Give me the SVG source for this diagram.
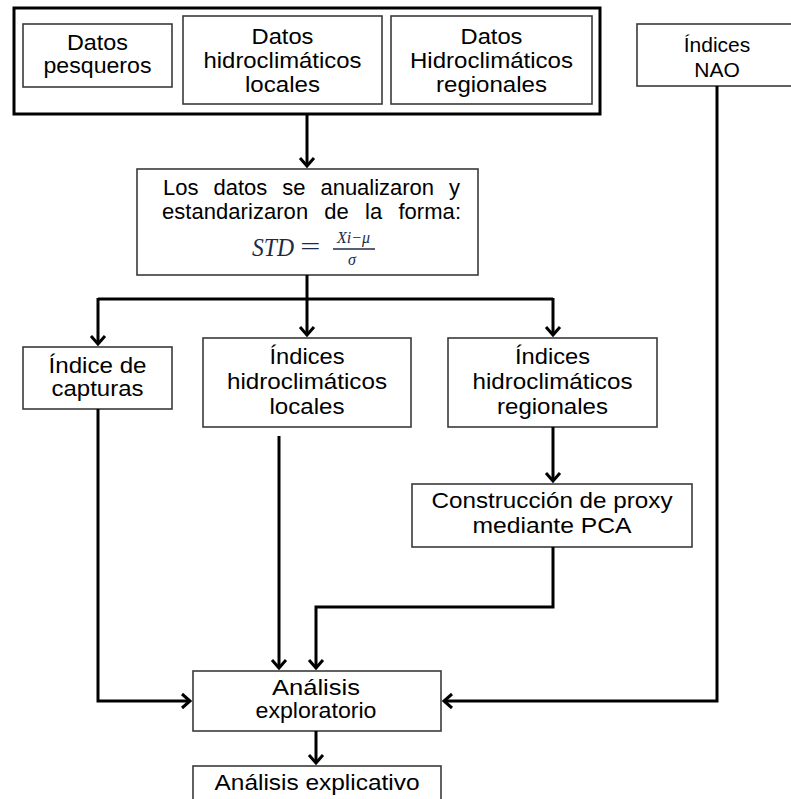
<svg xmlns="http://www.w3.org/2000/svg" width="791" height="799" viewBox="0 0 791 799">
<defs>
<marker id="arr" markerUnits="userSpaceOnUse" viewBox="-12 -10 14 20" refX="0" refY="0" markerWidth="14" markerHeight="20" orient="auto">
<path d="M-8,-7 L0,0 L-8,7" fill="none" stroke="#000" stroke-width="3" stroke-linejoin="miter"/>
</marker>
<style>
.box{fill:#fff;stroke:#3a3a3a;stroke-width:1.6}
.outer{fill:#fff;stroke:#000;stroke-width:3}
.t{font-family:"Liberation Sans",Arial,sans-serif;font-size:22px;fill:#000;text-anchor:middle}
.c{fill:none;stroke:#000;stroke-width:3}
.ca{fill:none;stroke:#000;stroke-width:3;marker-end:url(#arr)}
.m{font-family:"Liberation Serif","Times New Roman",serif;font-style:italic;fill:#1c2a48}
</style>
</defs>
<rect width="791" height="799" fill="#fff"/>

<g id="grupo-datos">
<rect class="outer" x="14" y="8" width="586" height="106"/>
</g>
<g id="datos-pesqueros">
<rect class="box" x="23" y="24" width="149" height="63"/>
<text class="t" x="97.5" y="50" textLength="61" lengthAdjust="spacingAndGlyphs">Datos</text>
<text class="t" x="97.5" y="73" textLength="108" lengthAdjust="spacingAndGlyphs">pesqueros</text>
</g>
<g id="datos-locales">
<rect class="box" x="183" y="16" width="199" height="88"/>
<text class="t" x="282.5" y="44" textLength="62" lengthAdjust="spacingAndGlyphs">Datos</text>
<text class="t" x="282.5" y="68" textLength="158" lengthAdjust="spacingAndGlyphs">hidroclimáticos</text>
<text class="t" x="282.5" y="92" textLength="75" lengthAdjust="spacingAndGlyphs">locales</text>
</g>
<g id="datos-regionales">
<rect class="box" x="391" y="16" width="201" height="88"/>
<text class="t" x="491.5" y="44" textLength="62" lengthAdjust="spacingAndGlyphs">Datos</text>
<text class="t" x="491.5" y="68" textLength="163" lengthAdjust="spacingAndGlyphs">Hidroclimáticos</text>
<text class="t" x="491.5" y="92" textLength="111" lengthAdjust="spacingAndGlyphs">regionales</text>
</g>
<g id="indices-nao">
<rect class="box" x="637" y="24" width="162" height="62"/>
<text class="t" x="717" y="52" style="font-size:21px">Índices</text>
<text class="t" x="717" y="77" style="font-size:21px">NAO</text>
</g>
<g id="estandarizacion">
<rect class="box" x="137" y="169" width="341" height="106"/>
<text class="t" x="311.5" y="195" textLength="297" lengthAdjust="spacing" style="word-spacing:9px">Los datos se anualizaron y</text>
<text class="t" x="311.5" y="219" textLength="299" lengthAdjust="spacing" style="word-spacing:10px">estandarizaron de la forma:</text>
<text class="m" x="252" y="256" font-size="25" textLength="42" lengthAdjust="spacingAndGlyphs">STD</text>
<text class="m" x="298" y="255" font-size="26" font-style="normal" textLength="24" lengthAdjust="spacingAndGlyphs">=</text>
<text class="m" x="353.5" y="243" font-size="16" text-anchor="middle">Xi−μ</text>
<line x1="333" y1="249" x2="375" y2="249" stroke="#1c2a48" stroke-width="1.3"/>
<text class="m" x="352" y="265" font-size="16" text-anchor="middle">σ</text>
</g>
<g id="indice-capturas">
<rect class="box" x="23" y="347" width="149" height="62"/>
<text class="t" x="97.5" y="373" textLength="98" lengthAdjust="spacingAndGlyphs">Índice de</text>
<text class="t" x="97.5" y="396" textLength="92" lengthAdjust="spacingAndGlyphs">capturas</text>
</g>
<g id="indices-locales">
<rect class="box" x="203" y="338" width="208" height="89"/>
<text class="t" x="307" y="364" textLength="75" lengthAdjust="spacingAndGlyphs">Índices</text>
<text class="t" x="307" y="389" textLength="160" lengthAdjust="spacingAndGlyphs">hidroclimáticos</text>
<text class="t" x="307" y="414" textLength="75" lengthAdjust="spacingAndGlyphs">locales</text>
</g>
<g id="indices-regionales">
<rect class="box" x="448" y="338" width="209" height="89"/>
<text class="t" x="552.5" y="364" textLength="75" lengthAdjust="spacingAndGlyphs">Índices</text>
<text class="t" x="552.5" y="389" textLength="160" lengthAdjust="spacingAndGlyphs">hidroclimáticos</text>
<text class="t" x="552.5" y="414" textLength="111" lengthAdjust="spacingAndGlyphs">regionales</text>
</g>
<g id="construccion-proxy">
<rect class="box" x="412" y="484" width="280" height="63"/>
<text class="t" x="552" y="508" textLength="241" lengthAdjust="spacingAndGlyphs">Construcción de proxy</text>
<text class="t" x="552" y="533" textLength="159" lengthAdjust="spacingAndGlyphs">mediante PCA</text>
</g>
<g id="analisis-exploratorio">
<rect class="box" x="193" y="671" width="248" height="60"/>
<text class="t" x="316" y="695" textLength="88" lengthAdjust="spacingAndGlyphs">Análisis</text>
<text class="t" x="316" y="718" textLength="121" lengthAdjust="spacingAndGlyphs">exploratorio</text>
</g>
<g id="analisis-explicativo">
<rect class="box" x="193" y="766" width="248" height="45"/>
<text class="t" x="317" y="790" textLength="205" lengthAdjust="spacingAndGlyphs">Análisis explicativo</text>
</g>

<g id="connectors">
<path class="ca" d="M307,114 V166"/>
<path class="c" d="M307,275 V299 M98,299 H553"/>
<path class="ca" d="M98,298 V344"/>
<path class="ca" d="M307,299 V335"/>
<path class="ca" d="M553,298 V335"/>
<path class="ca" d="M98,409 V701 H190"/>
<path class="ca" d="M279,436 V668"/>
<path class="ca" d="M553,427 V481"/>
<path class="ca" d="M553,547 V607 H316 V668"/>
<path class="ca" d="M717,86 V701 H444"/>
<path class="ca" d="M316,731 V763"/>
</g>
</svg>
